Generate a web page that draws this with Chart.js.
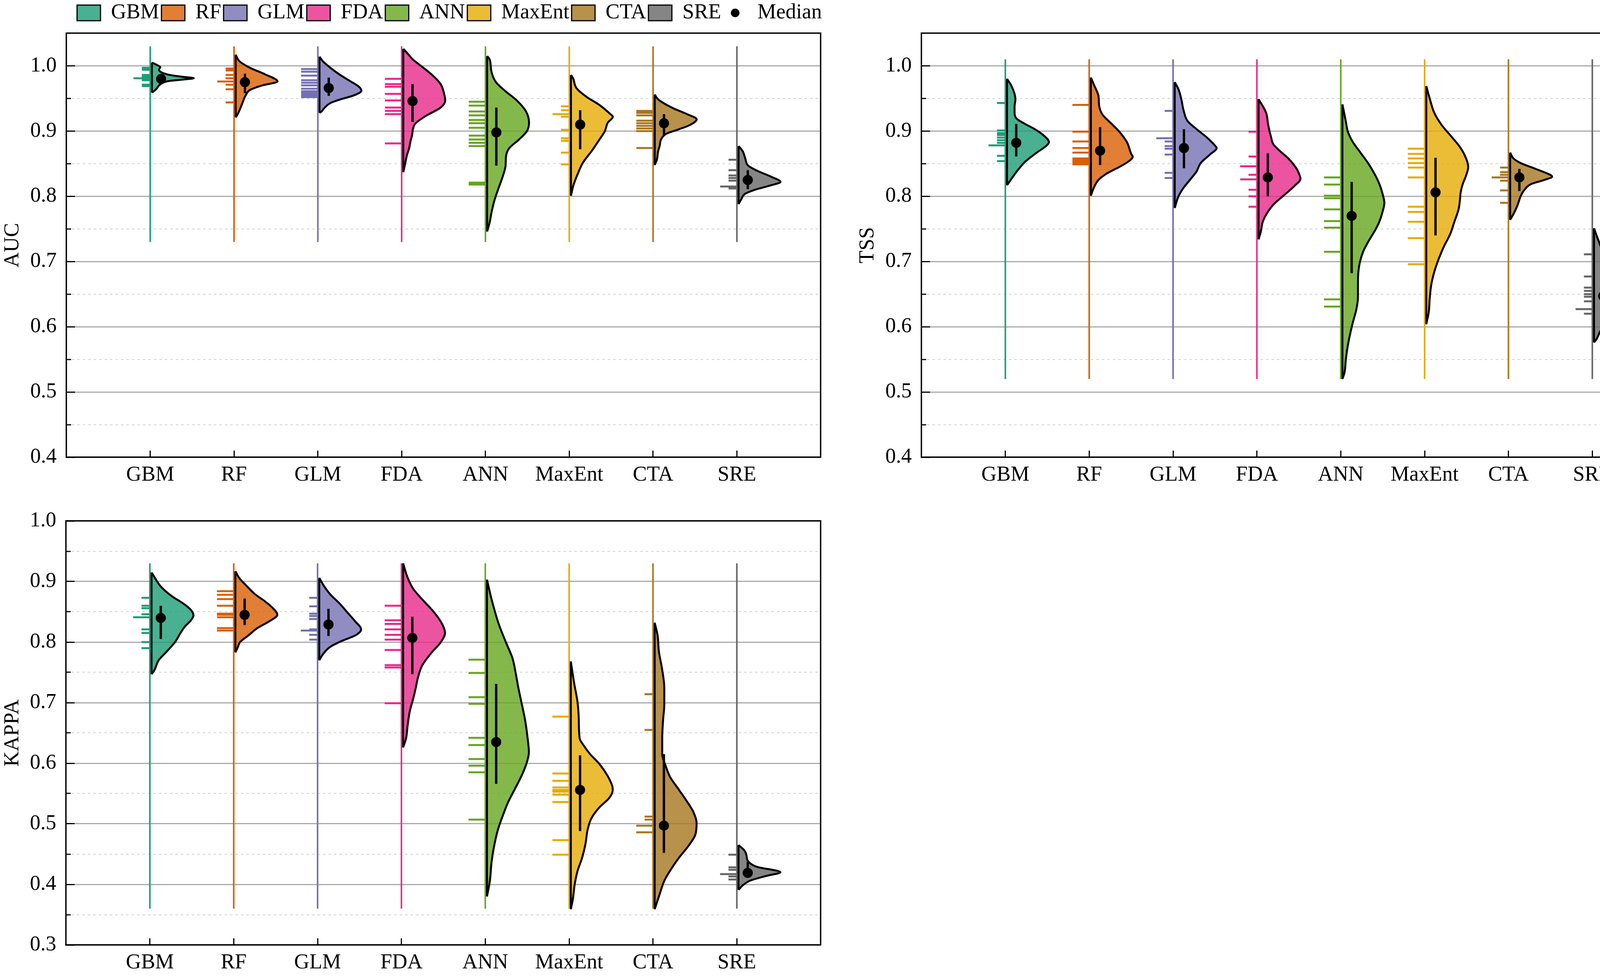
<!DOCTYPE html>
<html>
<head>
<meta charset="utf-8">
<script src="https://cdn.jsdelivr.net/npm/chart.js@4.4.1/dist/chart.umd.min.js"></script>
<style>
  html, body { margin: 0; padding: 0; background: #fff; }
  body { width: 4317px; height: 2500px; position: relative; overflow: hidden; }
  canvas { position: absolute; }
</style>
</head>
<body>
<canvas id="aucChart" width="2114" height="1290" style="left:0;top:0;width:2114px;height:1290px"></canvas>
<canvas id="tssChart" width="2115" height="1290" style="left:2189px;top:0;width:2115px;height:1290px"></canvas>
<canvas id="kappaChart" width="2114" height="1250" style="left:0;top:1250px;width:2114px;height:1250px"></canvas>
<script>
// categories and colours
const groups = ['GBM', 'RF', 'GLM', 'FDA', 'ANN', 'MaxEnt', 'CTA', 'SRE'];
const groupPos = [1, 2, 3, 4, 5, 6, 7, 8];
const lineColors = ['#1b9e77', '#d95f02', '#7570b3', '#e7298a', '#66a61e', '#e6ab02', '#a6761d', '#666666'];
const fillColors = ['rgba(27,158,119,0.8)', 'rgba(217,95,2,0.8)', 'rgba(117,112,179,0.8)', 'rgba(231,41,138,0.8)',
                    'rgba(102,166,30,0.8)', 'rgba(230,171,2,0.8)', 'rgba(166,118,29,0.8)', 'rgba(102,102,102,0.8)'];

// tick values
const aucTicks = [0.4, 0.5, 0.6, 0.7, 0.8, 0.9, 1.0];
const aucMinor = [0.45, 0.55, 0.65, 0.75, 0.85, 0.95];
const tssTicks = [0.4, 0.5, 0.6, 0.7, 0.8, 0.9, 1.0];
const tssMinor = [0.45, 0.55, 0.65, 0.75, 0.85, 0.95];
const kappaTicks = [0.3, 0.4, 0.5, 0.6, 0.7, 0.8, 0.9, 1.0];
const kappaMinor = [0.35, 0.45, 0.55, 0.65, 0.75, 0.85, 0.95];

// ---------- AUC ----------
const aucLineRange = [0.73, 1.03];
// density outline per model: [value, relative width], read top to bottom
const aucViolin = [
  [[1.005,0],[1.002,0.1],[0.998,0.2],[0.994,0.17],[0.99,0.23],[0.986,0.43],[0.983,0.75],[0.981,1],[0.979,0.75],[0.977,0.43],[0.974,0.26],[0.97,0.17],[0.964,0.1],[0.959,0]],
  [[1.017,0],[1.007,0.09],[0.997,0.34],[0.987,0.7],[0.976,1],[0.97,0.63],[0.963,0.34],[0.955,0.24],[0.948,0.19],[0.938,0.13],[0.925,0.04],[0.921,0]],
  [[1.014,0],[1.007,0.08],[0.997,0.26],[0.987,0.47],[0.977,0.72],[0.968,0.94],[0.962,1],[0.955,0.83],[0.948,0.47],[0.943,0.26],[0.935,0.11],[0.929,0.03],[0.928,0]],
  [[1.026,0],[1.019,0.1],[1.009,0.24],[1.0,0.42],[0.987,0.67],[0.972,0.89],[0.958,0.97],[0.947,1],[0.936,0.89],[0.923,0.53],[0.911,0.28],[0.903,0.23],[0.894,0.21],[0.884,0.17],[0.874,0.14],[0.864,0.09],[0.849,0.04],[0.837,0]],
  [[1.015,0],[1.01,0.06],[0.992,0.1],[0.975,0.21],[0.961,0.44],[0.948,0.69],[0.931,0.92],[0.913,1],[0.9,0.95],[0.887,0.76],[0.874,0.53],[0.861,0.45],[0.847,0.44],[0.83,0.37],[0.812,0.27],[0.795,0.18],[0.777,0.11],[0.76,0.06],[0.746,0]],
  [[0.986,0],[0.981,0.05],[0.966,0.13],[0.953,0.36],[0.94,0.68],[0.926,0.94],[0.922,1],[0.913,0.88],[0.9,0.81],[0.887,0.68],[0.869,0.49],[0.852,0.29],[0.834,0.16],[0.817,0.06],[0.801,0]],
  [[0.956,0],[0.95,0.06],[0.944,0.18],[0.935,0.44],[0.926,0.77],[0.918,1],[0.909,0.83],[0.902,0.54],[0.896,0.28],[0.887,0.15],[0.878,0.12],[0.869,0.08],[0.856,0.05],[0.848,0]],
  [[0.877,0],[0.869,0.1],[0.858,0.16],[0.847,0.23],[0.839,0.45],[0.83,0.78],[0.822,1],[0.817,0.78],[0.81,0.39],[0.804,0.16],[0.795,0.06],[0.788,0]]
];
const aucRug = [
  [0.997, 0.994, 0.986, 0.984, 0.981, 0.981, 0.978, 0.971, 0.969],
  [0.996, 0.993, 0.986, 0.981, 0.976, 0.976, 0.971, 0.964, 0.944],
  [0.995, 0.995, 0.991, 0.991, 0.985, 0.985, 0.978, 0.978, 0.974, 0.974, 0.970, 0.970, 0.965, 0.965, 0.961, 0.961, 0.958, 0.958, 0.955, 0.955, 0.952, 0.952],
  [0.980, 0.980, 0.972, 0.972, 0.968, 0.968, 0.957, 0.957, 0.947, 0.947, 0.936, 0.936, 0.931, 0.931, 0.926, 0.926, 0.881, 0.881],
  [0.945, 0.945, 0.939, 0.939, 0.930, 0.930, 0.924, 0.924, 0.917, 0.917, 0.912, 0.912, 0.905, 0.905, 0.893, 0.893, 0.887, 0.887, 0.882, 0.882, 0.877, 0.877, 0.821, 0.821, 0.818, 0.818],
  [0.938, 0.932, 0.926, 0.926, 0.922, 0.902, 0.889, 0.885, 0.867, 0.849],
  [0.931, 0.931, 0.928, 0.928, 0.924, 0.924, 0.916, 0.916, 0.912, 0.912, 0.908, 0.908, 0.904, 0.904, 0.900, 0.900, 0.874, 0.874],
  [0.856, 0.840, 0.832, 0.828, 0.824, 0.815, 0.815, 0.812]
];
const aucMedian = [0.980, 0.975, 0.966, 0.946, 0.898, 0.910, 0.912, 0.825];
const aucLow = [0.974, 0.958, 0.954, 0.914, 0.847, 0.872, 0.893, 0.811];
const aucHigh = [0.986, 0.988, 0.982, 0.972, 0.936, 0.932, 0.926, 0.840];

// ---------- TSS ----------
const tssLineRange = [0.52, 1.01];
const tssViolin = [
  [[0.98,0],[0.97,0.1],[0.957,0.18],[0.948,0.2],[0.938,0.18],[0.928,0.18],[0.919,0.23],[0.912,0.4],[0.903,0.66],[0.893,0.88],[0.883,1],[0.877,0.93],[0.867,0.71],[0.854,0.45],[0.842,0.28],[0.829,0.13],[0.817,0]],
  [[0.982,0],[0.97,0.08],[0.954,0.18],[0.938,0.2],[0.925,0.28],[0.912,0.48],[0.899,0.68],[0.883,0.86],[0.864,0.97],[0.861,1],[0.854,0.91],[0.845,0.68],[0.835,0.38],[0.825,0.18],[0.813,0.07],[0.801,0]],
  [[0.975,0],[0.964,0.09],[0.948,0.16],[0.932,0.21],[0.915,0.31],[0.903,0.52],[0.89,0.77],[0.877,0.97],[0.874,1],[0.864,0.84],[0.851,0.62],[0.838,0.52],[0.825,0.36],[0.813,0.21],[0.8,0.09],[0.782,0]],
  [[0.949,0],[0.928,0.18],[0.909,0.23],[0.89,0.3],[0.88,0.35],[0.87,0.5],[0.858,0.71],[0.842,0.91],[0.832,0.98],[0.827,1],[0.816,0.86],[0.803,0.63],[0.787,0.35],[0.774,0.2],[0.761,0.1],[0.745,0.05],[0.734,0]],
  [[0.941,0],[0.915,0.08],[0.899,0.13],[0.883,0.25],[0.867,0.43],[0.851,0.61],[0.835,0.76],[0.819,0.88],[0.803,0.96],[0.79,1],[0.777,0.96],[0.761,0.88],[0.748,0.78],[0.732,0.63],[0.716,0.5],[0.7,0.42],[0.684,0.38],[0.665,0.37],[0.645,0.37],[0.626,0.33],[0.607,0.25],[0.588,0.18],[0.568,0.12],[0.549,0.08],[0.53,0.05],[0.52,0]],
  [[0.969,0],[0.948,0.09],[0.928,0.19],[0.909,0.37],[0.89,0.62],[0.874,0.82],[0.858,0.95],[0.845,1],[0.832,0.95],[0.819,0.87],[0.806,0.82],[0.793,0.8],[0.78,0.77],[0.761,0.67],[0.742,0.57],[0.723,0.42],[0.703,0.29],[0.684,0.19],[0.665,0.12],[0.642,0.08],[0.623,0.06],[0.604,0]],
  [[0.867,0],[0.858,0.08],[0.851,0.25],[0.842,0.61],[0.832,0.98],[0.83,1],[0.825,0.81],[0.819,0.51],[0.809,0.33],[0.8,0.25],[0.787,0.18],[0.774,0.09],[0.764,0]],
  [[0.751,0],[0.735,0.09],[0.723,0.16],[0.703,0.24],[0.69,0.29],[0.681,0.44],[0.671,0.64],[0.658,0.89],[0.645,1],[0.633,0.87],[0.62,0.59],[0.607,0.34],[0.594,0.16],[0.581,0.06],[0.576,0]]
];
const tssRug = [
  [0.943, 0.901, 0.897, 0.894, 0.890, 0.886, 0.882, 0.878, 0.878, 0.862, 0.854],
  [0.940, 0.940, 0.899, 0.899, 0.884, 0.884, 0.874, 0.874, 0.867, 0.867, 0.858, 0.858, 0.855, 0.855, 0.852, 0.852, 0.849, 0.849],
  [0.931, 0.889, 0.889, 0.884, 0.877, 0.873, 0.864, 0.836, 0.828],
  [0.899, 0.861, 0.846, 0.846, 0.833, 0.826, 0.826, 0.810, 0.800, 0.784],
  [0.829, 0.829, 0.818, 0.818, 0.801, 0.801, 0.797, 0.797, 0.780, 0.780, 0.762, 0.762, 0.752, 0.752, 0.715, 0.715, 0.642, 0.642, 0.631, 0.631],
  [0.873, 0.873, 0.865, 0.865, 0.858, 0.858, 0.851, 0.851, 0.844, 0.844, 0.829, 0.829, 0.784, 0.784, 0.776, 0.776, 0.761, 0.761, 0.736, 0.736, 0.696, 0.696],
  [0.844, 0.837, 0.833, 0.829, 0.829, 0.824, 0.809, 0.790],
  [0.711, 0.677, 0.660, 0.655, 0.650, 0.646, 0.639, 0.627, 0.627, 0.620]
];
const tssMedian = [0.882, 0.870, 0.874, 0.829, 0.770, 0.806, 0.829, 0.647];
const tssLow = [0.861, 0.848, 0.843, 0.800, 0.682, 0.740, 0.808, 0.622];
const tssHigh = [0.911, 0.906, 0.903, 0.866, 0.822, 0.859, 0.842, 0.678];

// ---------- KAPPA ----------
const kappaLineRange = [0.36, 0.93];
const kappaViolin = [
  [[0.915,0],[0.906,0.08],[0.891,0.23],[0.875,0.5],[0.864,0.75],[0.853,0.94],[0.844,1],[0.836,0.94],[0.826,0.8],[0.815,0.69],[0.8,0.56],[0.785,0.37],[0.77,0.17],[0.754,0.07],[0.747,0]],
  [[0.917,0],[0.906,0.09],[0.894,0.25],[0.879,0.47],[0.868,0.69],[0.857,0.88],[0.845,1],[0.834,0.8],[0.823,0.52],[0.811,0.31],[0.8,0.11],[0.792,0.06],[0.783,0]],
  [[0.906,0],[0.894,0.1],[0.879,0.26],[0.864,0.48],[0.849,0.67],[0.834,0.86],[0.821,1],[0.811,0.86],[0.802,0.54],[0.792,0.26],[0.781,0.1],[0.77,0]],
  [[0.93,0],[0.906,0.11],[0.887,0.25],[0.868,0.49],[0.849,0.74],[0.83,0.93],[0.815,1],[0.8,0.9],[0.781,0.66],[0.762,0.46],[0.743,0.36],[0.724,0.3],[0.709,0.25],[0.686,0.16],[0.664,0.11],[0.641,0.07],[0.626,0]],
  [[0.903,0],[0.868,0.12],[0.83,0.28],[0.8,0.45],[0.773,0.61],[0.747,0.69],[0.724,0.75],[0.698,0.83],[0.671,0.91],[0.641,0.97],[0.618,1],[0.599,0.94],[0.58,0.83],[0.558,0.67],[0.535,0.5],[0.512,0.37],[0.49,0.26],[0.463,0.17],[0.437,0.11],[0.406,0.07],[0.38,0]],
  [[0.768,0],[0.732,0.08],[0.701,0.16],[0.671,0.19],[0.641,0.21],[0.63,0.3],[0.615,0.46],[0.599,0.68],[0.58,0.87],[0.562,0.99],[0.556,1],[0.543,0.92],[0.527,0.68],[0.509,0.49],[0.49,0.4],[0.467,0.35],[0.444,0.27],[0.422,0.16],[0.399,0.09],[0.376,0.05],[0.359,0]],
  [[0.832,0],[0.811,0.07],[0.785,0.1],[0.754,0.18],[0.724,0.23],[0.698,0.23],[0.671,0.2],[0.641,0.18],[0.615,0.18],[0.596,0.26],[0.577,0.37],[0.558,0.56],[0.539,0.75],[0.52,0.92],[0.501,1],[0.482,0.97],[0.463,0.8],[0.444,0.58],[0.425,0.39],[0.406,0.23],[0.384,0.12],[0.359,0]],
  [[0.465,0],[0.456,0.14],[0.448,0.19],[0.439,0.22],[0.429,0.44],[0.42,1],[0.414,0.66],[0.406,0.27],[0.399,0.11],[0.391,0]]
];
const kappaRug = [
  [0.873, 0.860, 0.856, 0.846, 0.841, 0.841, 0.821, 0.815, 0.800, 0.790],
  [0.884, 0.884, 0.878, 0.878, 0.871, 0.871, 0.860, 0.860, 0.847, 0.847, 0.845, 0.845, 0.841, 0.841, 0.823, 0.823, 0.819, 0.819],
  [0.873, 0.859, 0.847, 0.843, 0.838, 0.821, 0.819, 0.819, 0.812, 0.804],
  [0.860, 0.860, 0.836, 0.836, 0.830, 0.830, 0.821, 0.821, 0.812, 0.812, 0.804, 0.804, 0.787, 0.787, 0.762, 0.762, 0.758, 0.758, 0.699, 0.699],
  [0.771, 0.771, 0.749, 0.749, 0.709, 0.709, 0.698, 0.698, 0.642, 0.642, 0.630, 0.630, 0.607, 0.607, 0.596, 0.596, 0.585, 0.585, 0.507, 0.507],
  [0.677, 0.677, 0.583, 0.583, 0.571, 0.571, 0.560, 0.560, 0.556, 0.556, 0.553, 0.553, 0.548, 0.548, 0.536, 0.536, 0.473, 0.473, 0.449, 0.449],
  [0.714, 0.655, 0.512, 0.507, 0.497, 0.497, 0.486, 0.486],
  [0.449, 0.428, 0.424, 0.417, 0.417, 0.413, 0.408]
];
const kappaMedian = [0.840, 0.845, 0.829, 0.807, 0.635, 0.556, 0.497, 0.419];
const kappaLow = [0.805, 0.828, 0.810, 0.747, 0.566, 0.488, 0.452, 0.414];
const kappaHigh = [0.860, 0.872, 0.855, 0.842, 0.731, 0.613, 0.615, 0.437];

// drawing sizes (in x-axis units)
const halfWidth = 0.5;   // widest point of a half violin
const edgeShift = 0.02;  // violin sits just right of the coloured line
const rugLen = 0.1;      // length of one rug tick
const medShift = 0.13;   // median marker offset right of the line

Chart.defaults.font.family = "'Liberation Serif', 'Times New Roman', serif";
Chart.defaults.font.size = 54;
Chart.defaults.color = '#000';

// small black dot for the "Median" legend entry
const medianIcon = document.createElement('canvas');
medianIcon.width = 26; medianIcon.height = 26;
(function () {
  const c = medianIcon.getContext('2d');
  c.fillStyle = '#000';
  c.beginPath(); c.arc(13, 13, 11, 0, Math.PI * 2); c.fill();
})();

function buildDatasets(p) {
  const ds = [];
  const edgePts = [], medLinePts = [], medDotPts = [];
  groups.forEach((g, i) => {
    const pos = groupPos[i];
    const base = pos + edgeShift;
    // coloured reference line
    ds.push({
      data: [{x: pos, y: p.range[0]}, {x: pos, y: p.range[1]}],
      borderColor: lineColors[i], borderWidth: 4, pointRadius: 0, order: 50
    });
    // rug ticks, longer where values repeat
    const counts = {};
    p.rug[i].forEach(v => { counts[v] = (counts[v] || 0) + 1; });
    const rugPts = [];
    Object.keys(counts).forEach(k => {
      rugPts.push({x: pos - rugLen * counts[k], y: +k}, {x: pos, y: +k}, {x: null, y: null});
    });
    ds.push({data: rugPts, borderColor: lineColors[i], borderWidth: 5, pointRadius: 0, order: 40});
    // half violin
    const prof = p.violin[i];
    ds.push({
      data: prof.map(([v, w]) => ({x: base + halfWidth * w, y: v})),
      fill: {value: base},
      backgroundColor: fillColors[i],
      borderColor: '#000', borderWidth: 5,
      cubicInterpolationMode: 'monotone',
      pointRadius: 0, order: 30
    });
    edgePts.push({x: base, y: prof[0][0]}, {x: base, y: prof[prof.length - 1][0]}, {x: null, y: null});
    medLinePts.push({x: pos + medShift, y: p.low[i]}, {x: pos + medShift, y: p.high[i]}, {x: null, y: null});
    medDotPts.push({x: pos + medShift, y: p.median[i]});
  });
  ds.push({data: edgePts, borderColor: '#000', borderWidth: 5, pointRadius: 0, order: 20});
  ds.push({data: medLinePts, borderColor: '#000', borderWidth: 6, pointRadius: 0, order: 10});
  ds.push({data: medDotPts, showLine: false, pointRadius: 13, pointBackgroundColor: '#000',
           pointBorderWidth: 0, order: 0});
  return ds;
}

function makePanel(id, p) {
  const legend = p.legend ? {
    display: true, position: 'top', align: 'end',
    onClick: null,
    labels: {
      usePointStyle: true, pointStyleWidth: 60, boxHeight: 40, padding: 6,
      color: '#000', font: {size: 54},
      generateLabels: () => groups.map((g, i) => ({
        text: g, fillStyle: fillColors[i], strokeStyle: '#000', lineWidth: 3,
        pointStyle: 'rect', hidden: false, datasetIndex: i
      })).concat([{text: 'Median', fillStyle: '#000', strokeStyle: '#000', lineWidth: 0,
                   pointStyle: medianIcon, hidden: false}])
    }
  } : {display: false};

  return new Chart(document.getElementById(id), {
    type: 'line',
    data: {datasets: buildDatasets(p)},
    options: {
      responsive: false,
      animation: false,
      devicePixelRatio: 1,
      indexAxis: 'y',
      layout: {padding: {left: 0, right: p.padRight, top: 0, bottom: 0}},
      plugins: {legend: legend, tooltip: {enabled: false}},
      scales: {
        x: {
          type: 'linear', position: 'bottom', min: 0, max: 9,
          afterBuildTicks: s => { s.ticks = groupPos.map(v => ({value: v})); },
          afterFit: s => { s.height = p.xAxisH; },
          ticks: {autoSkip: false, maxRotation: 0, padding: 30, color: '#000',
                  callback: v => groups[v - 1]},
          grid: {drawOnChartArea: false, tickLength: -17, tickWidth: 3, tickColor: '#000'},
          border: {color: '#000', width: 3.5}
        },
        xTop: {
          type: 'linear', position: 'top', min: 0, max: 9,
          ticks: {display: false}, grid: {display: false},
          border: {color: '#000', width: 3.5},
          afterFit: s => { s.height = p.topH; }
        },
        y: {
          type: 'linear', position: 'left', min: p.min, max: p.max, weight: 10,
          afterBuildTicks: s => { s.ticks = p.ticks.map(v => ({value: v})); },
          afterFit: s => { s.width = p.yAxisW; },
          ticks: {padding: 47, color: '#000', callback: v => v.toFixed(1)},
          grid: {color: '#ababab', lineWidth: 3, tickLength: -22, tickWidth: 3, tickColor: '#000'},
          border: {color: '#000', width: 3.5},
          title: {display: true, text: p.title, color: '#000', font: {size: 54}, padding: 0}
        },
        yMinor: {
          type: 'linear', position: 'left', min: p.min, max: p.max, weight: 0,
          afterBuildTicks: s => { s.ticks = p.minor.map(v => ({value: v})); },
          afterFit: s => { s.width = 0; },
          ticks: {display: false},
          grid: {color: '#cfcfcf', lineWidth: 2, borderDash: [6, 8], tickLength: -12,
                 tickWidth: 3, tickColor: '#000', tickBorderDash: []},
          border: {display: false, dash: [6, 8]}
        },
        yRight: {
          type: 'linear', position: 'right', min: p.min, max: p.max,
          ticks: {display: false}, grid: {display: false},
          border: {color: '#000', width: 3.5},
          afterFit: s => { s.width = 0; }
        }
      }
    }
  });
}

makePanel('aucChart', {
  title: 'AUC', min: 0.4, max: 1.05, ticks: aucTicks, minor: aucMinor,
  range: aucLineRange, violin: aucViolin, rug: aucRug,
  median: aucMedian, low: aucLow, high: aucHigh,
  legend: true, topH: 15, xAxisH: 120, yAxisW: 170, padRight: 4
});
makePanel('tssChart', {
  title: 'TSS', min: 0.4, max: 1.05, ticks: tssTicks, minor: tssMinor,
  range: tssLineRange, violin: tssViolin, rug: tssRug,
  median: tssMedian, low: tssLow, high: tssHigh,
  legend: false, topH: 85, xAxisH: 120, yAxisW: 170, padRight: 6
});
makePanel('kappaChart', {
  title: 'KAPPA', min: 0.3, max: 1.0, ticks: kappaTicks, minor: kappaMinor,
  range: kappaLineRange, violin: kappaViolin, rug: kappaRug,
  median: kappaMedian, low: kappaLow, high: kappaHigh,
  legend: false, topH: 83, xAxisH: 82, yAxisW: 169, padRight: 4
});
</script>
</body>
</html>
